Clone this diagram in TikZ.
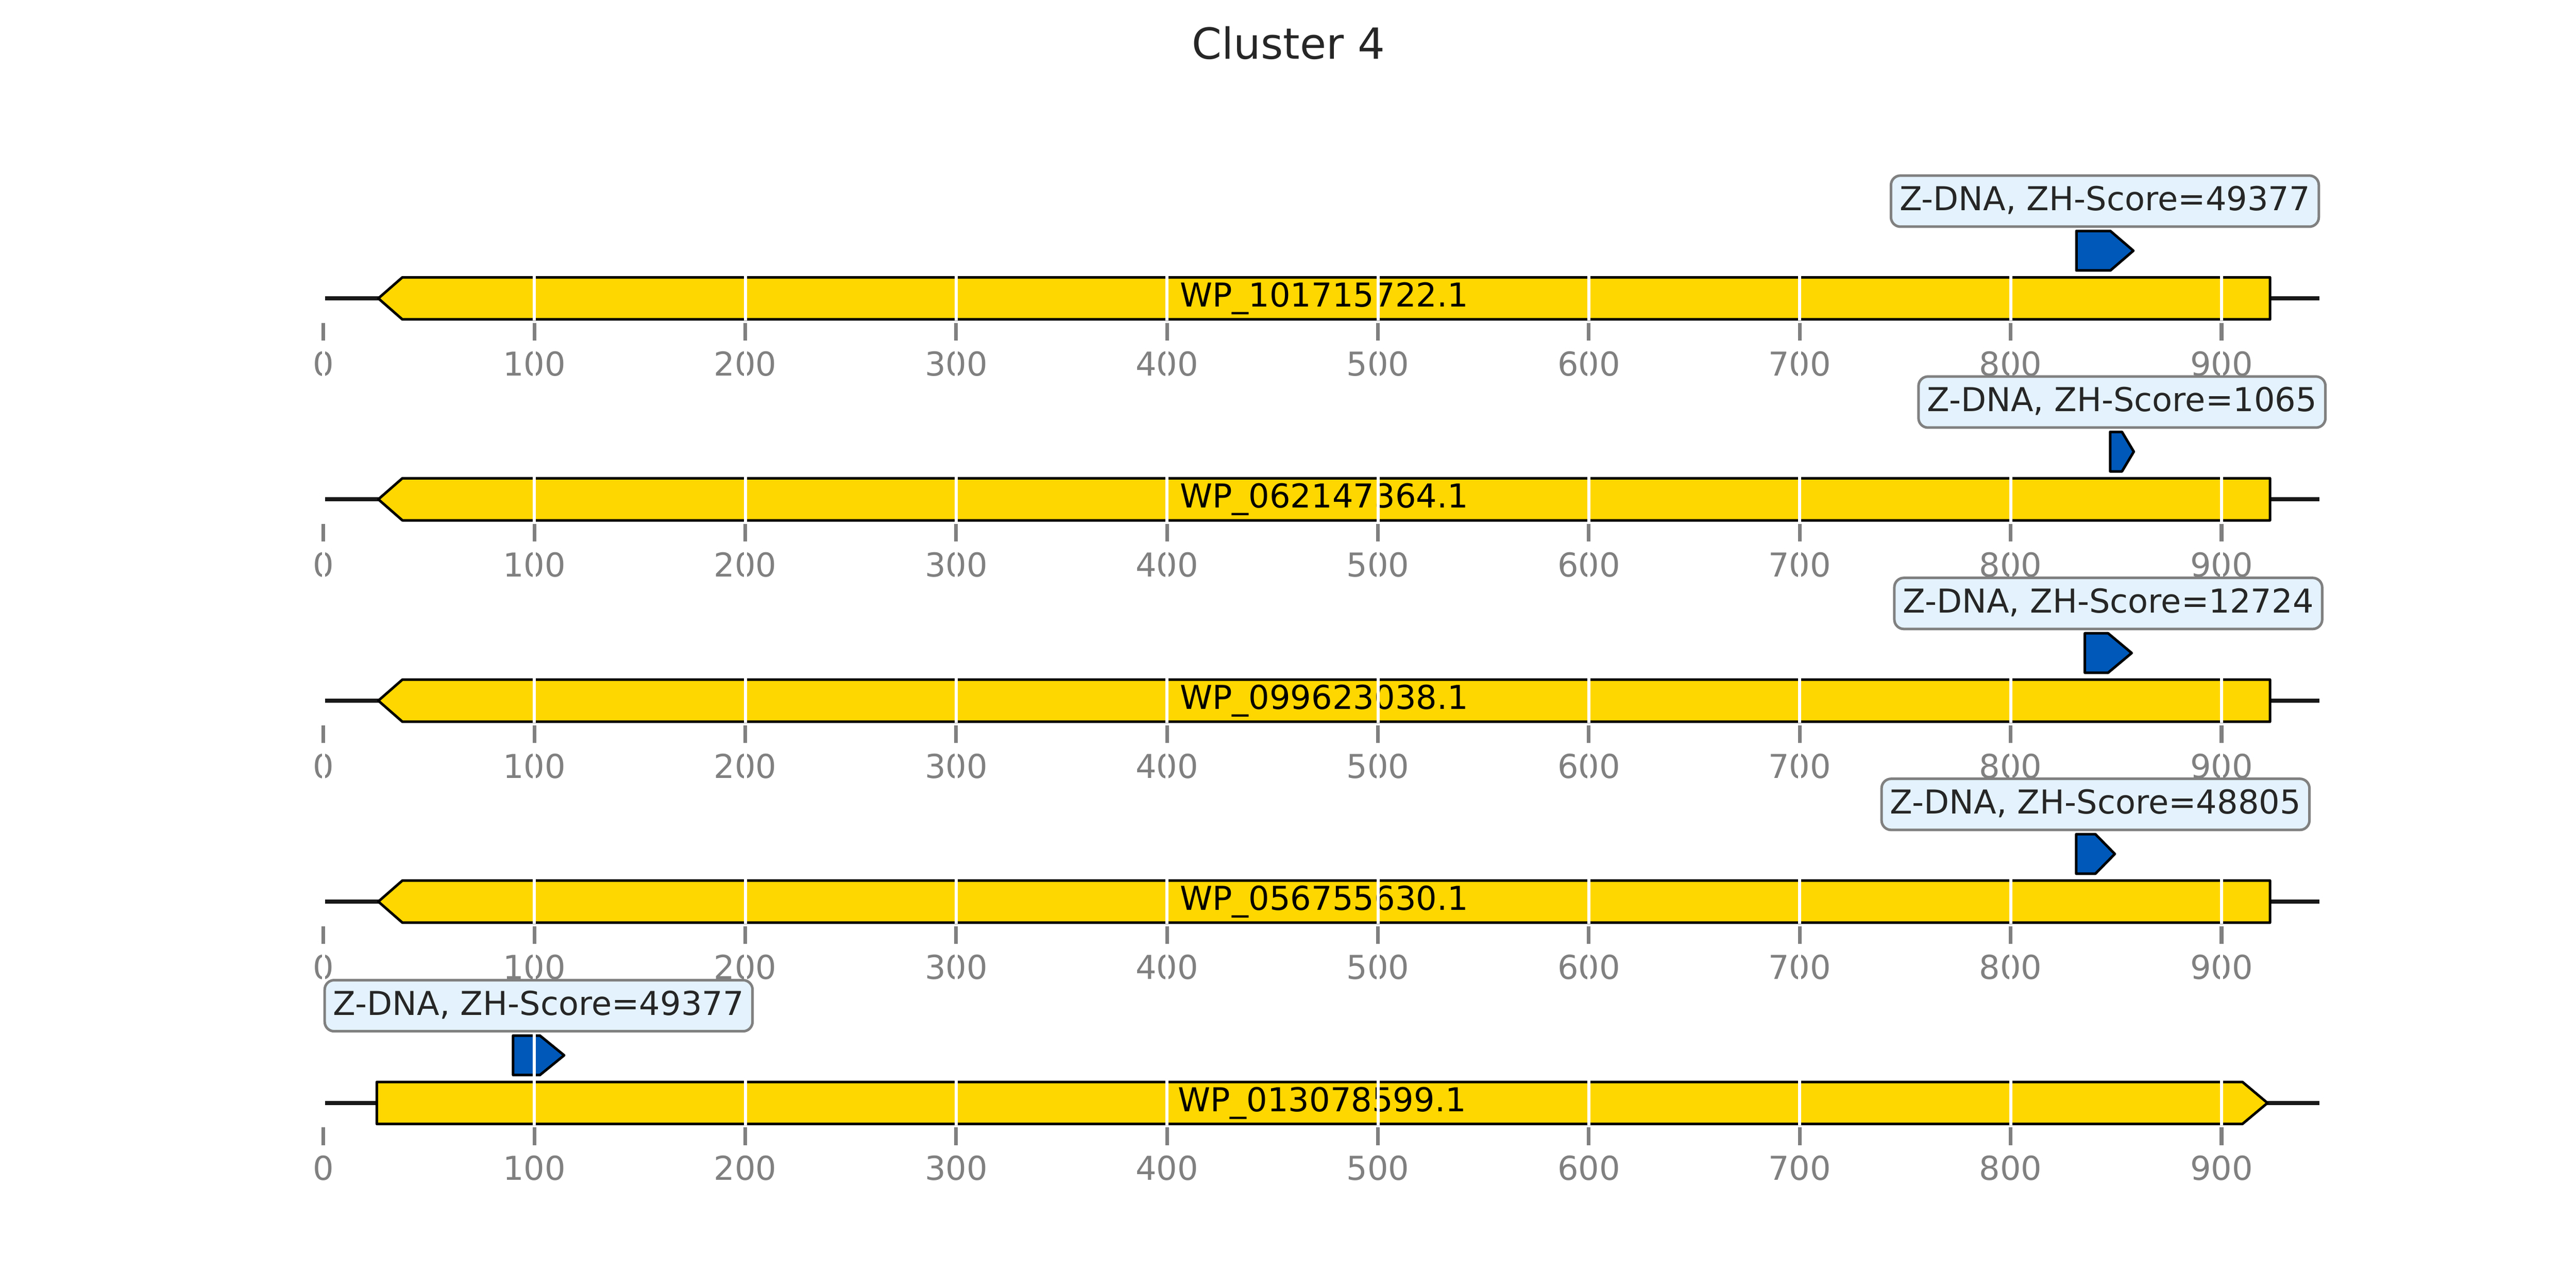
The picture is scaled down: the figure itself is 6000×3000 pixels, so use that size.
\documentclass[tikz,border=0pt]{standalone}
\usepackage{fontspec}
\setmainfont{DejaVu Sans}
\usepackage{tikz}
\usetikzlibrary{positioning}
\definecolor{genegold}{HTML}{FFD700}
\definecolor{zblue}{RGB}{0,88,184}
\definecolor{boxblue}{HTML}{E3F2FD}
\definecolor{inkgray}{HTML}{262626}
\definecolor{axisgray}{HTML}{808080}

\begin{document}
\begin{tikzpicture}[x=0.1mm, y=-0.1mm, line join=round,
  gene/.style={draw=black, line width=0.6mm, fill=genegold},
  zdna/.style={draw=black, line width=0.6mm, fill=zblue},
  backbone/.style={draw=black!90, line width=1mm},
  gridw/.style={draw=white, line width=0.7mm},
  tickmark/.style={draw=axisgray, line width=0.85mm},
  ticklbl/.style={text=axisgray, anchor=base, inner sep=0pt, font=\fontsize{21.8}{26}\selectfont},
  genelbl/.style={text=black, anchor=base, inner sep=0pt, font=\fontsize{21.8}{26}\selectfont},
  zbox/.style={draw=axisgray, line width=0.6mm, fill=boxblue, rounded corners=2.2mm, text=inkgray,
    anchor=south, inner xsep=2mm, inner ysep=0pt, minimum height=11.9mm,
    text height=7.1mm, text depth=2.8mm, font=\fontsize{21.8}{26}\selectfont}]
\useasboundingbox (0,0) rectangle (6000,3000);
\node[text=inkgray, anchor=base, inner sep=0pt, font=\fontsize{28.4}{34}\selectfont] (title) at (3001,137) {Cluster 4};

% row 1
\begin{scope}[shift={(753.5,695)}, xscale=4.912]
\draw[backbone] (-0.8,0) -- (946.5,0);
\draw[gene] (26,0) -- (37.4,-49) -- (923,-49) -- (923,49) -- (37.4,49) -- cycle;
\draw[zdna] (831.2,-157) -- (847.3,-157) -- (858.2,-111) -- (847.3,-65) -- (831.2,-65) -- cycle;
\node[genelbl] (g1) at (474.5,20) {WP\_101715722.1};
\foreach \t in {0,100,...,900} \draw[gridw] (\t,-355) -- (\t,52);
\foreach \t in {0,100,...,900} {
  \draw[tickmark] (\t,57) -- (\t,98);
  \node[ticklbl] (t1-\t) at (\t,180) {\t};
}
\node[zbox] (z1) at (844.7,-164) {Z-DNA, ZH-Score=49377};
\end{scope}

% row 2
\begin{scope}[shift={(753.5,1163)}, xscale=4.912]
\draw[backbone] (-0.8,0) -- (946.5,0);
\draw[gene] (26,0) -- (37.4,-49) -- (923,-49) -- (923,49) -- (37.4,49) -- cycle;
\draw[zdna] (847.2,-157) -- (852.8,-157) -- (858.4,-111) -- (852.8,-65) -- (847.2,-65) -- cycle;
\node[genelbl] (g2) at (474.5,20) {WP\_062147364.1};
\foreach \t in {0,100,...,900} \draw[gridw] (\t,-355) -- (\t,52);
\foreach \t in {0,100,...,900} {
  \draw[tickmark] (\t,57) -- (\t,98);
  \node[ticklbl] (t2-\t) at (\t,180) {\t};
}
\node[zbox] (z2) at (852.8,-164) {Z-DNA, ZH-Score=1065};
\end{scope}

% row 3
\begin{scope}[shift={(753.5,1632)}, xscale=4.912]
\draw[backbone] (-0.8,0) -- (946.5,0);
\draw[gene] (26,0) -- (37.4,-49) -- (923,-49) -- (923,49) -- (37.4,49) -- cycle;
\draw[zdna] (835.2,-157) -- (846.2,-157) -- (857.4,-111) -- (846.2,-65) -- (835.2,-65) -- cycle;
\node[genelbl] (g3) at (474.5,20) {WP\_099623038.1};
\foreach \t in {0,100,...,900} \draw[gridw] (\t,-355) -- (\t,52);
\foreach \t in {0,100,...,900} {
  \draw[tickmark] (\t,57) -- (\t,98);
  \node[ticklbl] (t3-\t) at (\t,180) {\t};
}
\node[zbox] (z3) at (846.3,-164) {Z-DNA, ZH-Score=12724};
\end{scope}

% row 4
\begin{scope}[shift={(753.5,2100)}, xscale=4.912]
\draw[backbone] (-0.8,0) -- (946.5,0);
\draw[gene] (26,0) -- (37.4,-49) -- (923,-49) -- (923,49) -- (37.4,49) -- cycle;
\draw[zdna] (831.1,-157) -- (840.2,-157) -- (849.4,-111) -- (840.2,-65) -- (831.1,-65) -- cycle;
\node[genelbl] (g4) at (474.5,20) {WP\_056755630.1};
\foreach \t in {0,100,...,900} \draw[gridw] (\t,-355) -- (\t,52);
\foreach \t in {0,100,...,900} {
  \draw[tickmark] (\t,57) -- (\t,98);
  \node[ticklbl] (t4-\t) at (\t,180) {\t};
}
\node[zbox] (z4) at (840.25,-164) {Z-DNA, ZH-Score=48805};
\end{scope}

% row 5
\begin{scope}[shift={(753.5,2569)}, xscale=4.912]
\draw[backbone] (-0.8,0) -- (946.5,0);
\draw[gene] (25.3,-49) -- (909.9,-49) -- (921.8,0) -- (909.9,49) -- (25.3,49) -- cycle;
\draw[zdna] (89.9,-157) -- (102.6,-157) -- (114.1,-111) -- (102.6,-65) -- (89.9,-65) -- cycle;
\node[genelbl] (g5) at (473.5,20) {WP\_013078599.1};
\foreach \t in {0,100,...,900} \draw[gridw] (\t,-355) -- (\t,52);
\foreach \t in {0,100,...,900} {
  \draw[tickmark] (\t,57) -- (\t,98);
  \node[ticklbl] (t5-\t) at (\t,180) {\t};
}
\node[zbox] (z5) at (102,-164) {Z-DNA, ZH-Score=49377};
\end{scope}
\end{tikzpicture}
\end{document}
